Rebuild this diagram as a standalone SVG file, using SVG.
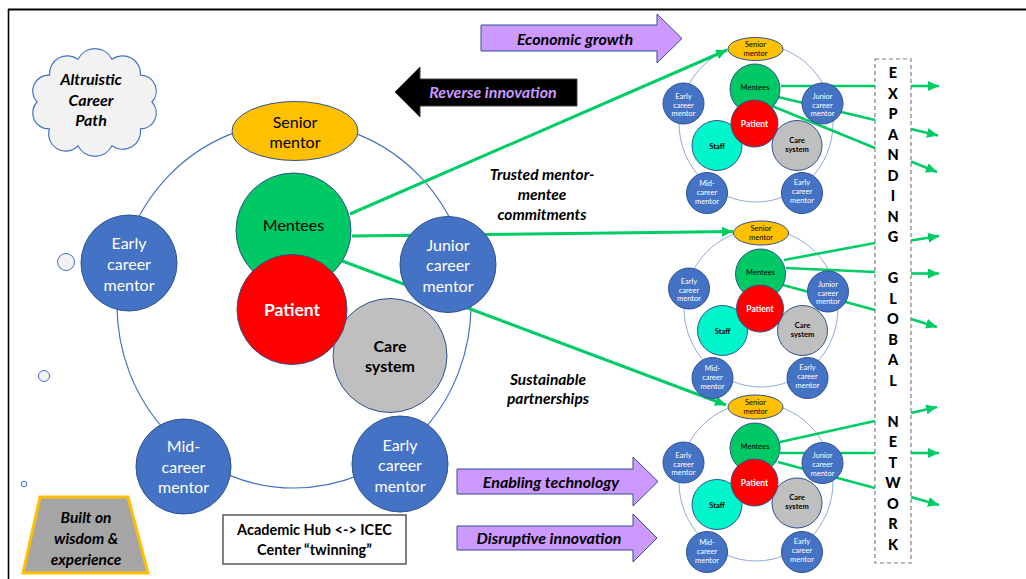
<svg xmlns="http://www.w3.org/2000/svg" width="1026" height="579" viewBox="0 0 1026 579">
<style>
text{font-family:Lato,"Open Sans","Liberation Sans",sans-serif;text-anchor:middle}
.ring{fill:none;stroke:#4472C4;stroke-width:1.2}
.sring{fill:none;stroke:#8FAADC;stroke-width:1}
.blue{fill:#4472C4;stroke:#2F528F;stroke-width:1}
.gold{fill:#FFC000;stroke:#2F528F;stroke-width:1}
.green{fill:#00C865;stroke:#2F528F;stroke-width:1}
.red{fill:#FF0000;stroke:#2F528F;stroke-width:1}
.grey{fill:#BFBFBF;stroke:#2F528F;stroke-width:1}
.cyan{fill:#00F5CC;stroke:#2F528F;stroke-width:1}
.t16{font-size:16px}
.w{fill:#fff}
.k{fill:#000}
.b{font-weight:bold}
.bi{font-weight:bold;font-style:italic}
.s{font-size:7.5px}
.sp{font-size:8.5px;font-weight:bold;fill:#fff}
.conn line{stroke:#00CC66;stroke-width:3;fill:none}
.conn .thin{stroke-width:2.6}
.lav{fill:#CC99FF;stroke:#2F528F;stroke-width:1}
.net{font-size:14.5px;font-weight:900;fill:#000}
</style>
<defs>
<marker id="ah" markerUnits="userSpaceOnUse" markerWidth="12" markerHeight="10" refX="11" refY="5" orient="auto">
<path d="M0,0 L11,5 L0,10 Z" fill="#00CC66"/>
</marker>
</defs>

<g id="frame">
<line x1="8" y1="9.5" x2="1026" y2="9.5" stroke="#000" stroke-width="2"/>
<line x1="8.5" y1="9" x2="8.5" y2="579" stroke="#000" stroke-width="1.6"/>
</g>

<g id="cloud">
<path d="M152,102 A16,16 0 0 1 140.5,128.9 A18,18 0 0 1 112,145.8 A19,19 0 0 1 78,145.8 A17,17 0 0 1 49.5,128.9 A16,16 0 0 1 37,102 A16,16 0 0 1 49.5,75.1 A18,18 0 0 1 78,59.2 A19,19 0 0 1 112,59.2 A18,18 0 0 1 140.5,75.1 A16,16 0 0 1 152,102 Z" fill="#F2F2F2" stroke="#4472C4" stroke-width="1.2"/>
<text x="91" y="85" class="bi" font-size="16">Altruistic</text>
<text x="91" y="106" class="bi" font-size="16">Career</text>
<text x="91" y="126" class="bi" font-size="16">Path</text>
</g>

<g id="bubbles">
<circle cx="66" cy="262" r="8.5" fill="#F2F2F2" stroke="#4472C4" stroke-width="1"/>
<circle cx="44" cy="376" r="5.5" fill="#F2F2F2" stroke="#4472C4" stroke-width="1"/>
<circle cx="24" cy="484" r="2.8" fill="#F2F2F2" stroke="#4472C4" stroke-width="1"/>
</g>

<g id="wisdom">
<polygon points="40,497 128,497 148,573 23,573" fill="#A5A5A5" stroke="#FFC000" stroke-width="3"/>
<text x="86" y="523" class="bi" font-size="15.5">Built on</text>
<text x="86" y="544" class="bi" font-size="15.5">wisdom &amp;</text>
<text x="86" y="565" class="bi" font-size="15.5">experience</text>
</g>

<g id="twinning">
<rect x="223" y="515" width="183" height="49" fill="#fff" stroke="#595959" stroke-width="1.5"/>
<text x="314.5" y="535" class="b" font-size="14.5">Academic Hub &lt;-&gt; ICEC</text>
<text x="314.5" y="555" class="b" font-size="14.5">Center “twinning”</text>
</g>

<g id="economic-growth">
<polygon class="lav" points="481,25 657,25 657,14 682,38.5 657,63 657,51 481,51"/>
<text x="575" y="45" class="bi" font-size="16">Economic growth</text>
</g>
<g id="reverse-innovation">
<polygon points="577,79 420,79 420,67 395,92 420,117 420,106 577,106" fill="#000" stroke="#404040" stroke-width="1"/>
<text x="493" y="98" class="bi" font-size="16" fill="#CC99FF">Reverse innovation</text>
</g>
<g id="enabling-technology">
<polygon class="lav" points="457,469 633,469 633,457 658,481.5 633,506 633,494 457,494"/>
<text x="551" y="488" class="bi" font-size="16">Enabling technology</text>
</g>
<g id="disruptive-innovation">
<polygon class="lav" points="457,526 633,526 633,514 657,538 633,562 633,550 457,550"/>
<text x="549" y="544" class="bi" font-size="16">Disruptive innovation</text>
</g>

<g id="label-trusted">
<text x="542" y="180" class="bi" font-size="15.5">Trusted mentor-</text>
<text x="542" y="200" class="bi" font-size="15.5">mentee</text>
<text x="542" y="219.5" class="bi" font-size="15.5">commitments</text>
</g>
<g id="label-sustainable">
<text x="548" y="384.5" class="bi" font-size="15.5">Sustainable</text>
<text x="548" y="404" class="bi" font-size="15.5">partnerships</text>
</g>

<g id="network-box">
<rect x="875" y="59" width="36" height="504" fill="none" stroke="#7F7F7F" stroke-width="1.2" stroke-dasharray="4,3"/>
<text x="893" class="net"><tspan x="893" y="78">E</tspan><tspan x="893" y="98.5">X</tspan><tspan x="893" y="119">P</tspan><tspan x="893" y="139.5">A</tspan><tspan x="893" y="160">N</tspan><tspan x="893" y="180.5">D</tspan><tspan x="893" y="201">I</tspan><tspan x="893" y="221.5">N</tspan><tspan x="893" y="242">G</tspan><tspan x="893" y="283">G</tspan><tspan x="893" y="303.5">L</tspan><tspan x="893" y="324">O</tspan><tspan x="893" y="344.5">B</tspan><tspan x="893" y="365">A</tspan><tspan x="893" y="385.5">L</tspan><tspan x="893" y="426.5">N</tspan><tspan x="893" y="447">E</tspan><tspan x="893" y="467.5">T</tspan><tspan x="893" y="488">W</tspan><tspan x="893" y="508.5">O</tspan><tspan x="893" y="529">R</tspan><tspan x="893" y="549.5">K</tspan></text>
</g>

<g id="rings">
<ellipse class="ring" cx="294" cy="305" rx="177" ry="183"/>
<ellipse class="sring" cx="756" cy="123" rx="77" ry="79"/>
<ellipse class="sring" cx="761" cy="308" rx="77" ry="79"/>
<ellipse class="sring" cx="756" cy="482" rx="77" ry="79"/>
</g>

<g id="connectors" class="conn">
<line x1="350" y1="214" x2="727" y2="50" marker-end="url(#ah)"/>
<line x1="352" y1="236" x2="733" y2="231.5" marker-end="url(#ah)"/>
<line x1="337" y1="259" x2="726" y2="405" marker-end="url(#ah)"/>
<line class="thin" x1="781" y1="86" x2="875" y2="86"/>
<line class="thin" x1="778" y1="97" x2="875" y2="120"/>
<line class="thin" x1="772" y1="106" x2="875" y2="148"/>
<line class="thin" x1="784" y1="260" x2="875" y2="243"/>
<line class="thin" x1="786" y1="268" x2="875" y2="272"/>
<line class="thin" x1="783" y1="285" x2="875" y2="310"/>
<line class="thin" x1="780" y1="442" x2="875" y2="421"/>
<line class="thin" x1="780" y1="453" x2="875" y2="453"/>
<line class="thin" x1="778" y1="462" x2="875" y2="488"/>
<line class="thin" x1="911" y1="86" x2="939" y2="86" marker-end="url(#ah)"/>
<line class="thin" x1="911" y1="129" x2="938" y2="135.5" marker-end="url(#ah)"/>
<line class="thin" x1="911" y1="161.5" x2="937" y2="172" marker-end="url(#ah)"/>
<line class="thin" x1="911" y1="240.5" x2="939" y2="236" marker-end="url(#ah)"/>
<line class="thin" x1="911" y1="273.5" x2="939" y2="273.5" marker-end="url(#ah)"/>
<line class="thin" x1="911" y1="319" x2="937" y2="327" marker-end="url(#ah)"/>
<line class="thin" x1="911" y1="413" x2="937" y2="407" marker-end="url(#ah)"/>
<line class="thin" x1="911" y1="453" x2="939" y2="453" marker-end="url(#ah)"/>
<line class="thin" x1="911" y1="497" x2="939" y2="505" marker-end="url(#ah)"/>
</g>

<g id="main-hub">
<g id="senior-mentor"><ellipse class="gold" cx="295" cy="131" rx="63" ry="29.5"/><text class="t16 k" x="295" y="127.5">Senior</text><text class="t16 k" x="295" y="147.5">mentor</text></g>
<g id="care-system"><circle class="grey" cx="390" cy="355.5" r="57"/><text class="t16 k b" x="390" y="351.5">Care</text><text class="t16 k b" x="390" y="372">system</text></g>
<g id="mentees"><circle class="green" cx="293.5" cy="230.5" r="57.5"/><text class="t16 k" x="293.5" y="230.5">Mentees</text></g>
<g id="patient"><circle class="red" cx="292" cy="309.5" r="55"/><text class="w b" font-size="17.5" x="292" y="316">Patient</text></g>
<g id="early-career-mentor-left"><circle class="blue" cx="129" cy="263" r="48"/><text class="t16 w" x="129" y="248.5">Early</text><text class="t16 w" x="129" y="269.5">career</text><text class="t16 w" x="129" y="290.5">mentor</text></g>
<g id="junior-career-mentor"><circle class="blue" cx="448" cy="264.5" r="48"/><text class="t16 w" x="448" y="250.5">Junior</text><text class="t16 w" x="448" y="271">career</text><text class="t16 w" x="448" y="292">mentor</text></g>
<g id="mid-career-mentor"><circle class="blue" cx="183.5" cy="466.5" r="47.5"/><text class="t16 w" x="183.5" y="452">Mid-</text><text class="t16 w" x="183.5" y="472.5">career</text><text class="t16 w" x="183.5" y="492.5">mentor</text></g>
<g id="early-career-mentor-right"><circle class="blue" cx="400" cy="464" r="48"/><text class="t16 w" x="400" y="450.5">Early</text><text class="t16 w" x="400" y="471">career</text><text class="t16 w" x="400" y="491.5">mentor</text></g>
</g>

<g id="center-1">
<g id="c1-senior"><ellipse class="gold" cx="755.5" cy="49" rx="27.5" ry="11.5"/><text class="s k" x="755.5" y="47">Senior</text><text class="s k" x="755.5" y="56">mentor</text></g>
<g id="c1-staff"><circle class="cyan" cx="717" cy="145.5" r="25"/><text class="s k b" x="717" y="148.7">Staff</text></g>
<g id="c1-care"><circle class="grey" cx="797" cy="145.5" r="25"/><text class="s k b" x="797" y="142.6">Care</text><text class="s k b" x="797" y="151.6">system</text></g>
<g id="c1-mentees"><circle class="green" cx="755" cy="89" r="25"/><text class="s k" x="755" y="90">Mentees</text></g>
<g id="c1-patient"><circle class="red" cx="754.5" cy="123.5" r="23.5"/><text class="sp" x="754.5" y="127">Patient</text></g>
<g id="c1-early-left"><circle class="blue" cx="683.5" cy="103.5" r="20.5"/><text class="s w" x="683.5" y="98.6">Early</text><text class="s w" x="683.5" y="107.6">career</text><text class="s w" x="683.5" y="116.3">mentor</text></g>
<g id="c1-junior"><circle class="blue" cx="822.5" cy="103.5" r="20.5"/><text class="s w" x="822.5" y="98.6">Junior</text><text class="s w" x="822.5" y="107.6">career</text><text class="s w" x="822.5" y="116.3">mentor</text></g>
<g id="c1-mid"><circle class="blue" cx="707" cy="193" r="20.5"/><text class="s w" x="707" y="186">Mid-</text><text class="s w" x="707" y="195">career</text><text class="s w" x="707" y="204">mentor</text></g>
<g id="c1-early-right"><circle class="blue" cx="802" cy="193" r="20.5"/><text class="s w" x="802" y="185.3">Early</text><text class="s w" x="802" y="194.3">career</text><text class="s w" x="802" y="203.3">mentor</text></g>
</g>

<g id="center-2" transform="translate(5.5,185)">
<g id="c2-senior"><ellipse class="gold" cx="755.5" cy="48" rx="27.5" ry="12"/><text class="s k" x="755.5" y="46">Senior</text><text class="s k" x="755.5" y="55">mentor</text></g>
<g id="c2-staff"><circle class="cyan" cx="717" cy="145.5" r="25"/><text class="s k b" x="717" y="148.7">Staff</text></g>
<g id="c2-care"><circle class="grey" cx="797" cy="145.5" r="25"/><text class="s k b" x="797" y="142.6">Care</text><text class="s k b" x="797" y="151.6">system</text></g>
<g id="c2-mentees"><circle class="green" cx="755" cy="89" r="25"/><text class="s k" x="755" y="90">Mentees</text></g>
<g id="c2-patient"><circle class="red" cx="754.5" cy="123.5" r="23.5"/><text class="sp" x="754.5" y="127">Patient</text></g>
<g id="c2-early-left"><circle class="blue" cx="683.5" cy="103.5" r="20.5"/><text class="s w" x="683.5" y="98.6">Early</text><text class="s w" x="683.5" y="107.6">career</text><text class="s w" x="683.5" y="116.3">mentor</text></g>
<g id="c2-junior"><circle class="blue" cx="822.5" cy="106.5" r="20.5"/><text class="s w" x="822.5" y="101.6">Junior</text><text class="s w" x="822.5" y="110.6">career</text><text class="s w" x="822.5" y="119.3">mentor</text></g>
<g id="c2-mid"><circle class="blue" cx="707" cy="193" r="20.5"/><text class="s w" x="707" y="186">Mid-</text><text class="s w" x="707" y="195">career</text><text class="s w" x="707" y="204">mentor</text></g>
<g id="c2-early-right"><circle class="blue" cx="802" cy="193" r="20.5"/><text class="s w" x="802" y="185.3">Early</text><text class="s w" x="802" y="194.3">career</text><text class="s w" x="802" y="203.3">mentor</text></g>
</g>

<g id="center-3" transform="translate(0,359)">
<g id="c3-senior"><ellipse class="gold" cx="755.5" cy="48" rx="27.5" ry="12"/><text class="s k" x="755.5" y="46">Senior</text><text class="s k" x="755.5" y="55">mentor</text></g>
<g id="c3-staff"><circle class="cyan" cx="717" cy="145.5" r="25"/><text class="s k b" x="717" y="148.7">Staff</text></g>
<g id="c3-care"><circle class="grey" cx="797" cy="144" r="25"/><text class="s k b" x="797" y="141.1">Care</text><text class="s k b" x="797" y="150.1">system</text></g>
<g id="c3-mentees"><circle class="green" cx="755" cy="89" r="25"/><text class="s k" x="755" y="90">Mentees</text></g>
<g id="c3-patient"><circle class="red" cx="754.5" cy="123.5" r="23.5"/><text class="sp" x="754.5" y="127">Patient</text></g>
<g id="c3-early-left"><circle class="blue" cx="683.5" cy="103.5" r="20.5"/><text class="s w" x="683.5" y="98.6">Early</text><text class="s w" x="683.5" y="107.6">career</text><text class="s w" x="683.5" y="116.3">mentor</text></g>
<g id="c3-junior"><circle class="blue" cx="822.5" cy="104" r="20.5"/><text class="s w" x="822.5" y="99.1">Junior</text><text class="s w" x="822.5" y="108.1">career</text><text class="s w" x="822.5" y="116.8">mentor</text></g>
<g id="c3-mid"><circle class="blue" cx="707" cy="193" r="20.5"/><text class="s w" x="707" y="186">Mid-</text><text class="s w" x="707" y="195">career</text><text class="s w" x="707" y="204">mentor</text></g>
<g id="c3-early-right"><circle class="blue" cx="802" cy="193" r="20.5"/><text class="s w" x="802" y="185.3">Early</text><text class="s w" x="802" y="194.3">career</text><text class="s w" x="802" y="203.3">mentor</text></g>
</g>
</svg>
